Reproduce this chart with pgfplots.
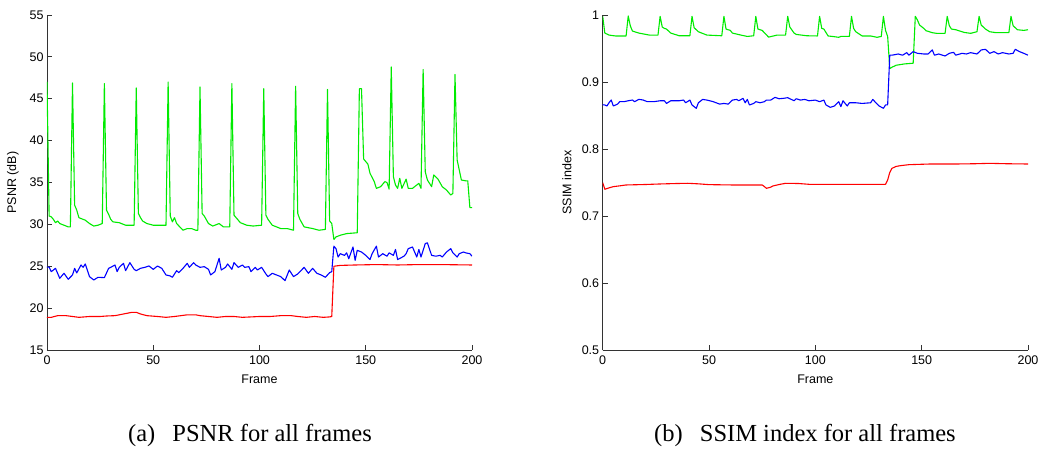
\documentclass[border=0pt]{standalone}
\usepackage{pgfplots}
\pgfplotsset{compat=1.18}
\usepackage{fontspec}
\setmainfont{Liberation Serif}
\setsansfont{Liberation Sans}
\definecolor{mgreen}{RGB}{0,235,0}
\definecolor{mblue}{RGB}{0,0,255}
\definecolor{mred}{RGB}{255,0,0}
\pgfplotsset{mystyle/.style={
  scale only axis, height=335pt, xmin=0, xmax=200,
  axis x line*=bottom, axis y line*=left,
  tick align=inside, major tick length=5pt,
  xtick={0,50,100,150,200},
  ticklabel style={font=\fontsize{12.5}{14}\selectfont\sffamily},
  xticklabel style={yshift=-2pt},
  label style={font=\fontsize{12.5}{14}\selectfont\sffamily},
  /pgf/number format/assume math mode=true,
  axis line style={black!80, line width=0.8pt},
  tick style={black!80, line width=0.8pt},
  every axis plot/.append style={line width=1.1pt, line join=round},
  xlabel={Frame},
  xlabel style={at={(axis description cs:0.5,-0.086)}, anchor=center},
}}
\begin{document}
\begin{tikzpicture}[x=1pt,y=1pt]
\path[use as bounding box] (0,0) rectangle (1042,457);
\begin{axis}[mystyle, at={(47pt,107pt)}, anchor=south west, width=425pt,
  ymin=15, ymax=55, ytick={15,20,25,30,35,40,45,50,55},
  ylabel={PSNR (dB)},
  ylabel style={at={(axis description cs:-0.08,0.5)}, anchor=center, rotate=0}]
\addplot[mgreen] table {
0 47.0
1 31.0
2 30.9
3 30.6
4 30.2
5 30.4
6 30.1
8 29.9
10 29.7
11 29.7
12 46.9
13 32.3
14 31.7
15 30.8
17 30.6
18 30.5
20 30.1
22 29.8
24 29.9
26 30.1
27 46.8
28 31.7
29 31.2
30 30.6
31 30.3
34 30.2
37 29.9
41 29.9
42 46.3
43 31.3
44 30.8
45 30.4
47 30.1
50 29.9
55 29.9
56 29.9
57 47.0
58 31.0
59 30.3
60 30.8
61 30.1
64 29.3
66 29.5
68 29.5
70 29.3
71 29.3
72 46.4
73 31.3
74 31.0
76 30.1
78 29.8
81 30.1
83 29.7
86 29.7
87 46.8
88 31.1
89 30.8
91 30.2
94 29.9
97 29.8
101 29.9
102 46.2
103 31.1
104 30.6
106 29.9
110 29.5
113 29.5
116 29.3
117 46.5
118 31.3
119 30.6
121 29.7
125 29.5
128 29.3
131 29.4
132 46.1
133 30.4
134 30.1
135 28.2
136 28.5
138 28.7
141 28.9
146 29.0
147 46.2
148 46.2
149 37.8
151 37.2
152 36.1
154 35.1
155 34.3
157 34.5
159 35.1
160 35.0
161 34.2
162 48.8
163 35.7
164 34.7
165 34.3
166 35.5
167 34.3
169 35.4
170 34.3
172 34.3
175 34.9
176 34.3
177 48.5
178 36.3
179 35.3
181 34.5
182 35.9
184 35.4
186 34.5
188 34.1
190 33.5
191 33.7
192 47.9
193 37.7
195 35.3
197 35.2
198 35.2
199 32.0
200 32.0
};
\addplot[mblue] table {
0 24.9
1 24.9
2 24.35
4 24.75
6 23.56
8 24.16
10 23.44
12 23.96
13 24.75
14 24.2
16 25.15
17 24.87
18 25.27
20 23.76
22 23.36
24 23.68
27 23.64
29 24.75
30 24.87
32 25.15
33 24.35
34 24.87
36 25.35
37 24.47
39 25.43
41 24.63
42 24.47
44 24.75
46 24.87
48 25.03
50 24.63
52 25.03
54 24.75
56 23.96
58 23.84
59 23.68
61 24.47
62 24.24
64 24.75
66 25.35
67 24.87
69 25.43
70 25.15
72 24.87
74 24.95
76 24.63
77 23.96
79 24.35
81 25.95
82 24.55
84 24.87
85 25.27
87 24.63
88 25.43
90 24.87
92 25.15
93 24.87
95 24.95
96 24.35
98 24.87
99 24.55
101 24.87
103 24.08
104 23.76
106 24.16
108 23.96
110 23.76
112 23.28
114 24.55
116 23.76
118 24.08
121 24.87
123 24.16
125 24.75
127 24.16
129 23.96
131 23.68
133 24.24
134 24.35
135 27.4
136 27.1
137 26.1
138 26.5
140 26.3
141 26.6
142 25.9
144 27.3
145 25.7
146 26.9
148 26.7
150 26.3
152 25.8
153 26.5
155 27.4
156 26.1
158 26.5
160 26.2
161 26.6
163 26.3
164 27.0
165 25.8
168 26.2
169 26.5
170 27.1
172 27.3
174 26.1
175 27.0
176 26.1
178 27.7
179 27.8
181 26.3
183 26.2
185 26.3
186 26.1
188 26.7
190 27.1
191 26.6
193 26.1
194 26.5
196 26.7
197 26.6
199 26.5
200 26.2
};
\addplot[mred] table {
0 18.9
2 18.9
5 19.1
9 19.1
12 19.0
15 18.9
20 19.0
25 19.0
28 19.06
32 19.1
36 19.3
40 19.5
42 19.5
44 19.3
47 19.1
52 19.0
56 18.9
60 19.0
63 19.1
66 19.2
70 19.2
72 19.1
76 19.0
80 18.9
84 19.0
88 19.0
92 18.9
96 18.95
100 19.0
105 19.0
110 19.1
115 19.1
118 19.0
122 18.9
126 19.0
130 18.9
133 18.95
134 19.0
135 25.0
138 25.1
145 25.15
155 25.2
165 25.15
175 25.2
185 25.2
200 25.15
};
\end{axis}
\begin{axis}[mystyle, at={(602.7pt,107pt)}, anchor=south west, width=425.3pt,
  ymin=0.5, ymax=1, ytick={0.5,0.6,0.7,0.8,0.9,1},
  ylabel={SSIM index},
  ylabel style={at={(axis description cs:-0.084,0.5)}, anchor=center, rotate=0}]
\addplot[mgreen] table {
0 0.998
1 0.973
3 0.970
6 0.9687
11 0.9687
12 0.9985
13 0.9836
14 0.976
15 0.975
17 0.973
22 0.970
26 0.970
27 0.998
28 0.982
29 0.980
30 0.979
32 0.973
36 0.969
41 0.969
42 0.998
43 0.981
45 0.975
49 0.970
56 0.969
57 0.998
58 0.979
60 0.977
61 0.973
65 0.970
68 0.968
71 0.969
72 0.998
73 0.979
75 0.977
78 0.967
82 0.970
86 0.970
87 0.998
88 0.982
90 0.973
91 0.971
96 0.969
101 0.9687
102 0.998
103 0.980
104 0.979
106 0.9687
108 0.968
111 0.9667
112 0.968
116 0.968
117 0.998
118 0.980
119 0.975
122 0.9687
126 0.9687
129 0.9667
131 0.968
132 0.998
133 0.977
134 0.968
135 0.920
136 0.922
138 0.925
142 0.927
146 0.928
147 0.998
148 0.9925
149 0.985
151 0.980
152 0.9766
155 0.9736
157 0.9726
161 0.9726
162 0.998
163 0.984
164 0.979
166 0.978
170 0.974
173 0.9726
176 0.975
177 0.998
178 0.985
180 0.979
182 0.975
185 0.9736
191 0.9736
192 0.998
193 0.984
195 0.978
198 0.977
200 0.978
};
\addplot[mblue] table {
0 0.866
1 0.8657
2 0.8642
3 0.8692
4 0.8731
5 0.8642
7 0.867
8 0.8706
10 0.8706
12 0.872
14 0.8731
15 0.8706
17 0.8741
19 0.8731
21 0.8706
24 0.8706
27 0.872
29 0.872
30 0.868
32 0.872
36 0.872
38 0.8731
39 0.869
41 0.873
42 0.8657
44 0.8607
45 0.869
47 0.874
49 0.873
52 0.8706
55 0.867
57 0.868
59 0.867
61 0.873
63 0.874
64 0.872
66 0.8756
67 0.869
68 0.874
69 0.8657
71 0.868
72 0.8706
74 0.869
76 0.8706
77 0.873
79 0.873
81 0.877
83 0.875
85 0.8756
87 0.8766
90 0.872
91 0.875
93 0.873
95 0.874
97 0.872
100 0.873
102 0.8706
104 0.873
105 0.8657
107 0.8622
109 0.8642
111 0.8706
112 0.8632
113 0.872
115 0.8642
116 0.869
119 0.869
122 0.868
126 0.869
127 0.874
128 0.8706
130 0.8642
132 0.8607
133 0.8657
134 0.866
135 0.940
136 0.940
139 0.9418
141 0.940
143 0.9438
144 0.940
146 0.9453
148 0.9428
151 0.9418
153 0.9418
155 0.9478
156 0.940
158 0.9418
161 0.9388
163 0.9428
165 0.9443
166 0.940
169 0.9428
171 0.9418
173 0.9438
176 0.9418
178 0.9478
180 0.9488
182 0.9428
184 0.9453
186 0.9418
188 0.9438
191 0.9418
193 0.9428
194 0.9488
196 0.9453
198 0.9428
200 0.940
};
\addplot[mred] table {
0 0.7498
1 0.7399
3 0.742
5 0.7438
8 0.745
11 0.7463
20 0.747
27 0.7478
35 0.7485
40 0.7488
45 0.748
50 0.7468
61 0.7463
70 0.7463
75 0.7463
76 0.7440
77 0.7413
79 0.743
80 0.7448
83 0.747
86 0.7488
92 0.7485
97 0.7473
104 0.7473
119 0.7473
133 0.7473
134 0.7537
135 0.765
136 0.7711
138 0.774
140 0.7751
144 0.7766
150 0.7772
154 0.7776
166 0.7776
175 0.778
182 0.7786
190 0.778
200 0.7776
};
\end{axis}
\node[font=\fontsize{24.5}{28}\selectfont] at (250,22) {(a)\hspace{0.7em}PSNR for all frames};
\node[font=\fontsize{24.5}{28}\selectfont] at (805,22) {(b)\hspace{0.7em}SSIM index for all frames};
\end{tikzpicture}
\end{document}
